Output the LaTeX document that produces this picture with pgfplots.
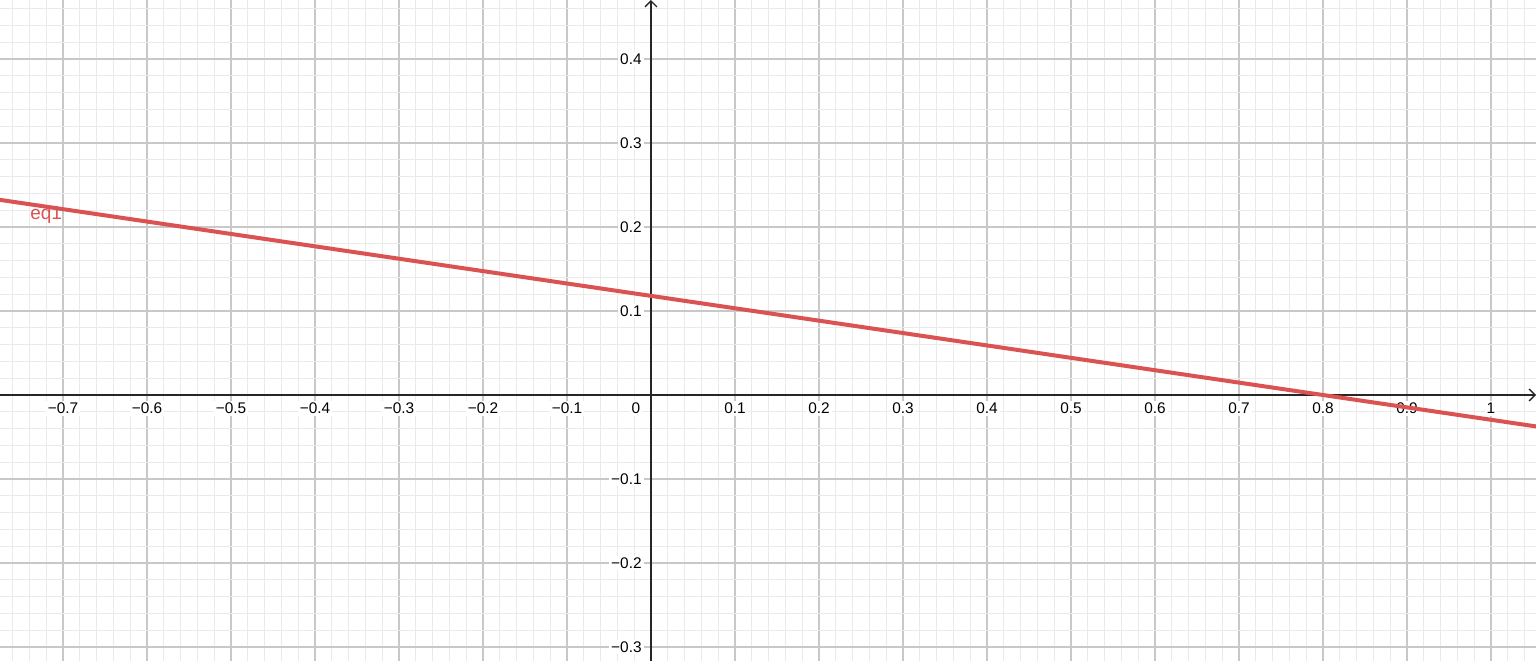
\documentclass[border=0pt]{standalone}
\usepackage{fontspec}
\setmainfont{Liberation Sans}
\usepackage{pgfplots}
\pgfplotsset{compat=1.18}
\usetikzlibrary{arrows.meta}

\definecolor{eqred}{RGB}{219,82,82}
\definecolor{majgrid}{RGB}{200,200,200}
\definecolor{mingrid}{RGB}{234,234,234}

\begin{document}
\begin{tikzpicture}
\begin{axis}[
    scale only axis,
    width=768pt, height=330.5pt,
    xmin=-0.775, xmax=1.0536,
    ymin=-0.31667, ymax=0.47024,
    axis lines=middle,
    axis line style={black!85, line width=0.7pt, -{Straight Barb[length=3pt,width=6pt]}},
    xtick={-0.7,-0.6,-0.5,-0.4,-0.3,-0.2,-0.1,0,0.1,0.2,0.3,0.4,0.5,0.6,0.7,0.8,0.9,1},
    xticklabels={−0.7,−0.6,−0.5,−0.4,−0.3,−0.2,−0.1,,0.1,0.2,0.3,0.4,0.5,0.6,0.7,0.8,0.9,1},
    ytick={-0.3,-0.2,-0.1,0,0.1,0.2,0.3,0.4},
    yticklabels={−0.3,−0.2,−0.1,,0.1,0.2,0.3,0.4},
    minor xtick={-0.78,-0.76,...,1.07},
    minor ytick={-0.32,-0.30,...,0.48},
    grid=both,
    major grid style={majgrid, line width=0.7pt},
    minor grid style={mingrid, line width=0.5pt},
    major tick length=0pt, minor tick length=0pt,
    tick label style={font=\fontsize{7.7}{8}\selectfont, fill=white, inner sep=1pt},
    xticklabel style={anchor=north, yshift=-2.8pt},
    yticklabel style={anchor=east, xshift=-3.5pt},
    clip=false,
]
\addplot[eqred, line width=2pt] coordinates {
    (-0.775,0.2323) (0,0.118) (0.8,0) (1.0536,-0.0374)
};
\node[anchor=north, yshift=-2.8pt, fill=white, inner sep=1pt,
      font=\fontsize{7.7}{8}\selectfont] at (axis cs:-0.018,0) {0};
\node[eqred, font=\fontsize{9.5}{10}\selectfont] at (axis cs:-0.72,0.214) {eq1};
\coordinate (ll) at (rel axis cs:0,0);
\coordinate (ur) at (rel axis cs:1,1);
\end{axis}
\pgfresetboundingbox
\path[use as bounding box] (ll) rectangle (ur);
\end{tikzpicture}
\end{document}
